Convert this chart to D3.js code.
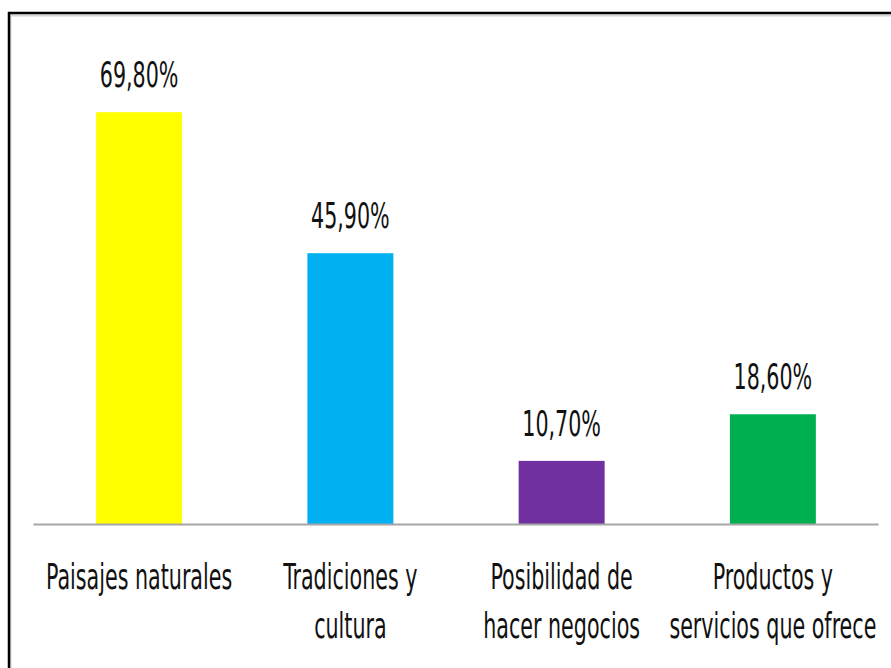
<!DOCTYPE html>
<html>
<head>
<meta charset="utf-8">
<script src="https://cdn.jsdelivr.net/npm/d3@7"></script>
<style>
  html, body { margin: 0; padding: 0; background: #fff; }
  svg { display: block; }
  text { font-family: "Liberation Sans Narrow", "DejaVu Sans Condensed", "Liberation Sans", sans-serif; fill: #111; }
</style>
</head>
<body>
<svg id="chart" width="891" height="668"></svg>
<script>
// Categories (label lines) and their percentages
const categories = [
  ["Paisajes naturales"],
  ["Tradiciones y", "cultura"],
  ["Posibilidad de", "hacer negocios"],
  ["Productos y", "servicios que ofrece"]
];
const values = [69.8, 45.9, 10.7, 18.6];
const valueLabels = ["69,80%", "45,90%", "10,70%", "18,60%"];
const colors = ["#FFFF00", "#00B0F0", "#7030A0", "#00B050"];

const W = 891, H = 668;
const svg = d3.select("#chart");

// Chart frame (top and left edges visible, with a light shadow)
svg.append("rect").attr("x", 10.5).attr("y", 15.5).attr("width", W + 20).attr("height", H + 20)
  .attr("fill", "none").attr("stroke", "#d4d4d4").attr("stroke-width", 2);
svg.append("rect").attr("x", 9).attr("y", 13).attr("width", W + 20).attr("height", H + 20)
  .attr("fill", "none").attr("stroke", "#000").attr("stroke-width", 2.5);

const x = d3.scaleBand().domain(d3.range(categories.length)).range([33.5, 878.5]).padding(0);
const y = d3.scaleLinear().domain([0, 80]).range([524, 52]);
const barW = x.bandwidth() * 0.407;
// Tall, narrow lettering
const textScale = "scale(0.82,1.25)";

// Bars
svg.append("g").selectAll("rect").data(values).join("rect")
  .attr("x", (d, i) => x(i) + x.bandwidth() / 2 - barW / 2)
  .attr("y", d => y(d))
  .attr("width", barW)
  .attr("height", d => y(0) - y(d))
  .attr("fill", (d, i) => colors[i]);

// Category axis line
svg.append("line")
  .attr("x1", x.range()[0]).attr("x2", x.range()[1])
  .attr("y1", y(0) + 0.5).attr("y2", y(0) + 0.5)
  .attr("stroke", "#a6a6a6").attr("stroke-width", 2);

// Value labels
svg.append("g").selectAll("text").data(values).join("text")
  .attr("transform", (d, i) => `translate(${x(i) + x.bandwidth() / 2},${y(d) - 25}) ${textScale}`)
  .attr("text-anchor", "middle")
  .attr("font-size", 28)
  .text((d, i) => valueLabels[i]);

// Category labels
const cat = svg.append("g").selectAll("g").data(categories).join("g")
  .attr("transform", (d, i) => `translate(${x(i) + x.bandwidth() / 2},0)`);
cat.selectAll("text").data(d => d).join("text")
  .attr("transform", (d, j) => `translate(0,${589 + j * 49}) ${textScale}`)
  .attr("text-anchor", "middle")
  .attr("font-size", 28)
  .text(d => d);
</script>
</body>
</html>
